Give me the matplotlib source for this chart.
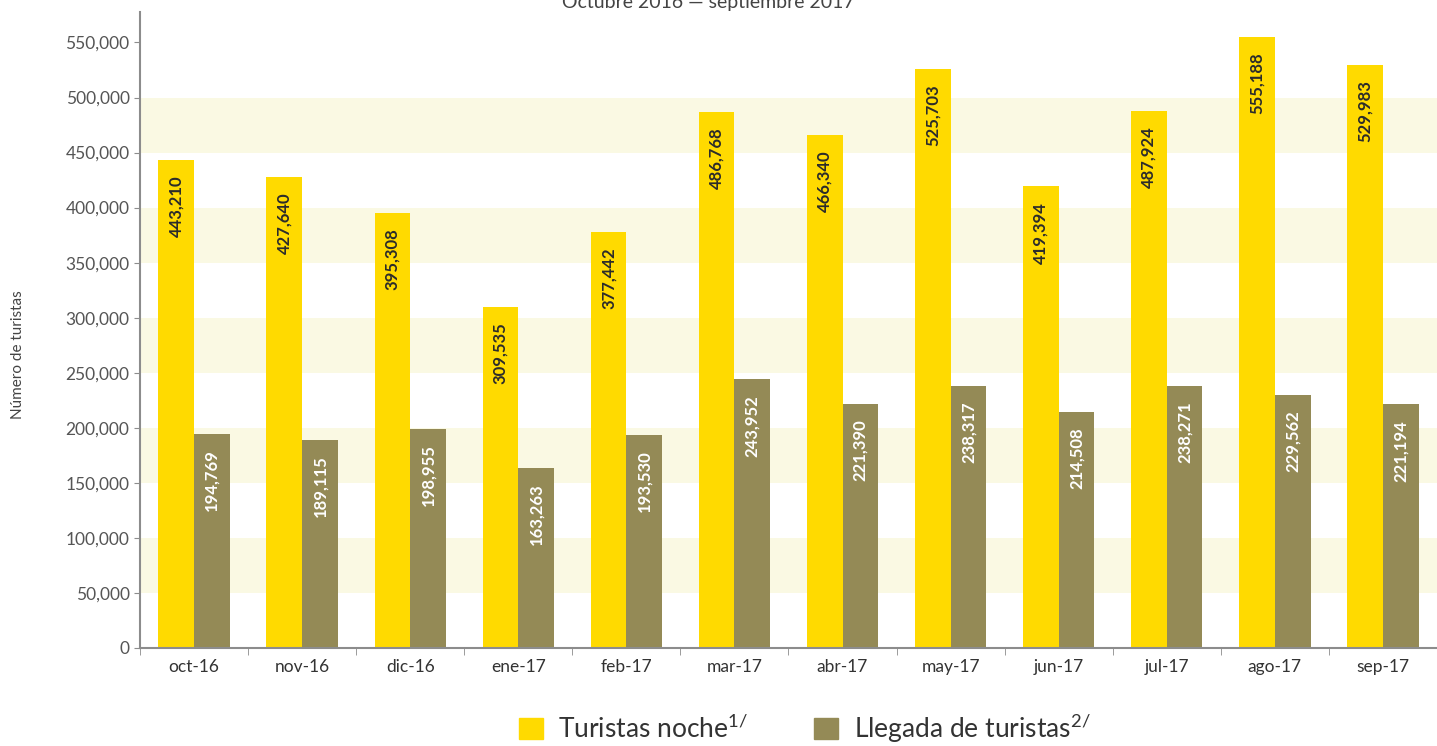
import numpy as np
import matplotlib.pyplot as plt
from matplotlib.patches import Patch

plt.rcParams['font.family'] = ['Lato', 'DejaVu Sans']
plt.rcParams['mathtext.fontset'] = 'custom'
plt.rcParams['mathtext.rm'] = 'Lato'
plt.rcParams['mathtext.default'] = 'regular'

months = ["oct-16", "nov-16", "dic-16", "ene-17", "feb-17", "mar-17",
          "abr-17", "may-17", "jun-17", "jul-17", "ago-17", "sep-17"]
turistas_noche = [443210, 427640, 395308, 309535, 377442, 486768,
                  466340, 525703, 419394, 487924, 555188, 529983]
llegada_turistas = [194769, 189115, 198955, 163263, 193530, 243952,
                    221390, 238317, 214508, 238271, 229562, 221194]
yticks = np.arange(0, 550001, 50000)

yellow = "#FFDA00"
olive = "#948A56"
band = "#FAF9E3"

fig = plt.figure(figsize=(14.37, 7.46), dpi=100)
ax = fig.add_axes([0.0974, 0.1314, 0.9026, 0.853])

x = np.arange(len(months))
w = 0.33

# alternating light bands
for lo in range(50000, 500001, 100000):
    ax.axhspan(lo, lo + 50000, color=band, zorder=0, lw=0)

b1 = ax.bar(x - w / 2, turistas_noche, w, color=yellow, zorder=2)
b2 = ax.bar(x + w / 2, llegada_turistas, w, color=olive, zorder=2)

for bars, vals, col in ((b1, turistas_noche, "#2b2b2b"), (b2, llegada_turistas, "white")):
    for r, v in zip(bars, vals):
        ax.text(r.get_x() + r.get_width() / 2, v - 14000, f"{v:,}",
                rotation=90, ha="center", va="top", fontsize=12,
                fontweight="bold", color=col, zorder=3)

ax.set_xlim(-0.5, len(months) - 0.5)
ax.set_ylim(0, 578000)
ax.set_yticks(yticks)
ax.set_yticklabels([f"{t:,}" for t in yticks])
ax.set_xticks(x)
ax.set_xticklabels(months)
ax.set_xticks(np.arange(-0.5, len(months)), minor=True)
ax.tick_params(axis="x", which="major", length=0, pad=8, labelsize=12.5, labelcolor="#333333")
ax.tick_params(axis="x", which="minor", length=5, color="#8c8c8c")
ax.tick_params(axis="y", length=4, color="#8c8c8c", labelsize=12.5, labelcolor="#555555")

for s in ("top", "right"):
    ax.spines[s].set_visible(False)
for s in ("left", "bottom"):
    ax.spines[s].set_color("#8c8c8c")
    ax.spines[s].set_linewidth(1.5)

fig.text(0.0125, 0.524, "Número de turistas", rotation=90, ha="center", va="center",
         fontsize=11, color="#444444")
fig.text(0.493, 0.997, "Octubre 2016 — septiembre 2017", ha="center", va="center",
         fontsize=14, color="#444444")

handles = [Patch(color=yellow), Patch(color=olive)]
fig.legend(handles, ["Turistas noche$^{1/}$", "Llegada de turistas$^{2/}$"],
           loc="lower center", bbox_to_anchor=(0.56, -0.03), ncol=2, frameon=False,
           fontsize=19, handlelength=0.9, handleheight=0.9,
           columnspacing=2.5, handletextpad=0.6, labelcolor="#333333")

fig.savefig("out.png", dpi=100)
